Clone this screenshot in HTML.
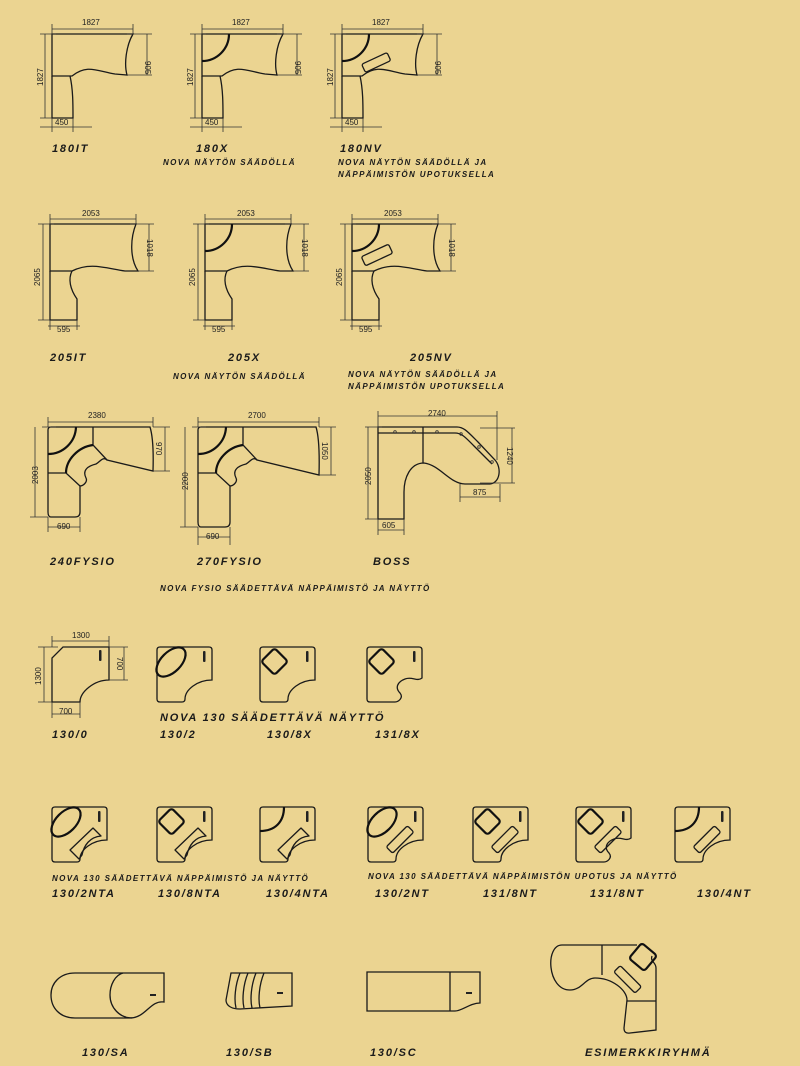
<!DOCTYPE html>
<html><head><meta charset="utf-8"><style>
html,body{margin:0;padding:0;background:#ebd491;}
svg{display:block}
.s{fill:none;stroke:#1a1a1a;stroke-width:1.3;vector-effect:non-scaling-stroke}
.t{fill:none;stroke:#111;stroke-width:2.2;vector-effect:non-scaling-stroke}
.d{fill:none;stroke:#333;stroke-width:0.8}
.n{font-family:"Liberation Sans",sans-serif;font-size:8px;fill:#222}
.L{font-family:"Liberation Sans",sans-serif;font-size:11px;font-weight:bold;font-style:italic;letter-spacing:1.8px;fill:#1a1a1a}
.S{font-family:"Liberation Sans",sans-serif;font-size:8px;font-weight:bold;font-style:italic;letter-spacing:1.4px;fill:#1a1a1a}
</style></head><body>
<svg width="800" height="1066" viewBox="0 0 800 1066" xmlns="http://www.w3.org/2000/svg">
<defs>
<g id="s180">
<path class="s" d="M0,0 H81 C74,12 72,30 75,41 L63,40 C45,37 35,30 20,42 H0 Z"/>
<path class="s" d="M0,42 V84 H21 C21,70 21,55 18,42"/>
</g>
<g id="d180">
<path class="d" d="M0,-5 H81 M0,-10 V0 M81,-10 V0 M-12,0 H4 M-7,0 V84 M-12,84 H0 M75,0 H100 M75,41 H100 M95,0 V41 M0,84 V98 M21,84 V98 M-12,93 H40"/>
<text class="n" x="30" y="-9">1827</text>
<text class="n" transform="translate(-9,52) rotate(-90)">1827</text>
<text class="n" transform="translate(93,27) rotate(90)">905</text>
<text class="n" x="3" y="91">450</text>
</g>
<g id="s205">
<path class="s" d="M0,0 H86 C80,15 80,35 88,47 L75,47 C55,44 40,38 22,47 H0 Z"/>
<path class="s" d="M0,47 V96 H27 V75 C20,65 18,55 22,47"/>
</g>
<g id="d205">
<path class="d" d="M0,-5 H86 M0,-10 V0 M86,-10 V0 M-12,0 H4 M-7,0 V96 M-12,96 H0 M80,0 H104 M88,47 H104 M99,0 V47 M0,96 V106 M27,96 V106 M-2,102 H30"/>
<text class="n" x="32" y="-8">2053</text>
<text class="n" transform="translate(-10,62) rotate(-90)">2065</text>
<text class="n" transform="translate(97,15) rotate(90)">1018</text>
<text class="n" x="7" y="108">595</text>
</g>
<g id="q130">
<path class="s" d="M3,0 H52 Q55,0 55,3 V33 C40,33 28,43 28,52 Q28,55 25,55 H3 Q0,55 0,52 V3 Q0,0 3,0 Z"/>
<rect x="46" y="4" width="2.5" height="11" rx="1" fill="#222"/>
</g>
<g id="q131">
<path class="s" d="M3,0 H52 Q55,0 55,3 V31 C50,35 45,29 38,32 C30,35 28,41 33,46 C37,51 31,55 28,55 H3 Q0,55 0,52 V3 Q0,0 3,0 Z"/>
<rect x="46" y="4" width="2.5" height="11" rx="1" fill="#222"/>
</g>
<ellipse id="ell" class="t" cx="14" cy="15" rx="18" ry="10" transform="rotate(-45 14 15)"/>
<rect id="mon" class="t" x="5" y="5" width="19" height="19" rx="3" transform="rotate(45 14.5 14.5)"/>
<path id="arc4" class="t" d="M0,24 C15,24 24,15 24,0"/>
<path id="kbA" class="s" d="M41,21 L49,29 C38,30 32,38 30,48 L27,52 L18,43 Z" stroke-linejoin="round"/>
<rect id="kbN" class="s" x="17" y="28" width="30" height="9" rx="2" transform="rotate(-45 32 32.5)"/>
</defs>

<!-- Row 1 -->
<use href="#s180" x="52" y="34"/><use href="#d180" x="52" y="34"/>
<use href="#s180" x="202" y="34"/><use href="#d180" x="202" y="34"/>
<path class="t" d="M202,61 A27,27 0 0 0 229,34"/>
<use href="#s180" x="342" y="34"/><use href="#d180" x="342" y="34"/>
<path class="t" d="M342,61 A27,27 0 0 0 369,34"/>
<rect class="s" x="362" y="58" width="28" height="9" rx="2" transform="rotate(-25 376 62)"/>
<text class="L" x="52" y="152">180IT</text>
<text class="L" x="196" y="152">180X</text>
<text class="L" x="340" y="152">180NV</text>
<text class="S" x="163" y="165">NOVA NÄYTÖN SÄÄDÖLLÄ</text>
<text class="S" x="338" y="165">NOVA NÄYTÖN SÄÄDÖLLÄ JA</text>
<text class="S" x="338" y="177">NÄPPÄIMISTÖN UPOTUKSELLA</text>

<!-- Row 2 -->
<use href="#s205" x="50" y="224"/><use href="#d205" x="50" y="224"/>
<use href="#s205" x="205" y="224"/><use href="#d205" x="205" y="224"/>
<path class="t" d="M205,251 A27,27 0 0 0 232,224"/>
<use href="#s205" x="352" y="224"/><use href="#d205" x="352" y="224"/>
<path class="t" d="M352,251 A27,27 0 0 0 379,224"/>
<rect class="s" x="362" y="250" width="30" height="10" rx="2" transform="rotate(-25 377 255)"/>
<text class="L" x="50" y="361">205IT</text>
<text class="L" x="228" y="361">205X</text>
<text class="L" x="410" y="361">205NV</text>
<text class="S" x="173" y="379">NOVA NÄYTÖN SÄÄDÖLLÄ</text>
<text class="S" x="348" y="377">NOVA NÄYTÖN SÄÄDÖLLÄ JA</text>
<text class="S" x="348" y="389">NÄPPÄIMISTÖN UPOTUKSELLA</text>

<!-- Row 3 Fysio -->
<g>
<path class="s" d="M51,427 H150 Q154,440 153,471 L107,460 C103,456 100,462 96,464 C88,466 82,470 86,478 C88,482 83,486 80,486 V512 Q80,517 75,517 H51 Q48,517 48,512 V430 Q48,427 51,427 Z"/>
<path class="s" d="M48,473 H66 L80,486 M93,427 V445 L107,460"/>
<path class="t" d="M48,454 A28,28 0 0 0 76,427 M93,445 C78,447 66,460 66,473"/>
<path class="d" d="M48,422 H153 M48,417 V427 M153,417 V427 M42,427 H56 M35,427 V517 M30,517 H48 M153,427 H170 M153,471 H170 M165,427 V471 M48,517 V532 M80,517 V532 M48,527 H80"/>
<text class="n" x="88" y="418">2380</text>
<text class="n" transform="translate(38,484) rotate(-90)">2003</text>
<text class="n" transform="translate(156,442) rotate(90)">970</text>
<text class="n" x="57" y="529">690</text>
</g>
<g>
<path class="s" d="M201,427 H316 Q320,440 319,475 L257,460 C253,456 250,462 246,464 C238,466 232,470 236,478 C238,482 233,486 230,486 V522 Q230,527 225,527 H201 Q198,527 198,522 V430 Q198,427 201,427 Z"/>
<path class="s" d="M198,473 H216 L230,486 M243,427 V445 L257,460"/>
<path class="t" d="M198,454 A28,28 0 0 0 226,427 M243,445 C228,447 216,460 216,473"/>
<path class="d" d="M198,422 H319 M198,417 V427 M319,417 V427 M192,427 H206 M185,427 V527 M180,527 H198 M319,427 H336 M319,475 H336 M331,427 V475 M198,527 V545 M230,527 V545 M198,537 H230"/>
<text class="n" x="248" y="418">2700</text>
<text class="n" transform="translate(188,490) rotate(-90)">2200</text>
<text class="n" transform="translate(322,442) rotate(90)">1050</text>
<text class="n" x="206" y="539">690</text>
</g>
<g>
<path class="s" d="M378,427 H457 C464,427 468,432 478,442 L495,460 C502,468 500,483 490,484 H465 C450,484 440,465 424,463 C410,463 404,478 404,492 V519 H378 Z"/>
<path class="s" d="M423,427 V463 M378,433 H455 C462,433 466,438 474,446 L492,464"/>
<circle class="d" cx="395" cy="432" r="1.3"/><circle class="d" cx="414" cy="432" r="1.3"/><circle class="d" cx="437" cy="432" r="1.3"/><circle class="d" cx="461" cy="434" r="1.3"/><circle class="d" cx="479" cy="447" r="1.3"/><circle class="d" cx="492" cy="462" r="1.3"/>
<path class="d" d="M378,416 H497 M378,411 V428 M497,411 V460 M365,427 H382 M368,427 V519 M365,519 H378 M480,428 H515 M480,483 H515 M512,428 V483 M460,484 V502 M500,484 V502 M460,497 H500 M378,519 V535 M404,519 V535 M378,530 H404"/>
<text class="n" x="428" y="416">2740</text>
<text class="n" transform="translate(371,485) rotate(-90)">2050</text>
<text class="n" transform="translate(507,447) rotate(90)">1240</text>
<text class="n" x="473" y="495">875</text>
<text class="n" x="382" y="528">605</text>
</g>
<text class="L" x="50" y="565">240FYSIO</text>
<text class="L" x="197" y="565">270FYSIO</text>
<text class="L" x="373" y="565">BOSS</text>
<text class="S" x="160" y="591">NOVA FYSIO SÄÄDETTÄVÄ NÄPPÄIMISTÖ JA NÄYTTÖ</text>

<!-- Row 4 -->
<path class="s" d="M63,647 H109 V680 C94,680 80,692 80,702 H52 V658 Z"/>
<rect x="99" y="650" width="2.5" height="11" rx="1" fill="#222"/>
<path class="d" d="M52,641 H109 M52,636 V647 M109,636 V647 M38,647 H58 M44,647 V702 M38,702 H52 M109,647 H128 M109,680 H128 M124,647 V680 M52,702 V718 M80,702 V718 M52,714 H80"/>
<text class="n" x="72" y="638">1300</text>
<text class="n" transform="translate(41,685) rotate(-90)">1300</text>
<text class="n" transform="translate(117,657) rotate(90)">700</text>
<text class="n" x="59" y="714">700</text>
<use href="#q130" x="157" y="647"/><use href="#ell" x="157" y="647"/>
<use href="#q130" x="260" y="647"/><use href="#mon" x="260" y="647"/>
<use href="#q131" x="367" y="647"/><use href="#mon" x="367" y="647"/>
<text class="L" x="160" y="721">NOVA 130 SÄÄDETTÄVÄ NÄYTTÖ</text>
<text class="L" x="52" y="738">130/0</text>
<text class="L" x="160" y="738">130/2</text>
<text class="L" x="267" y="738">130/8X</text>
<text class="L" x="375" y="738">131/8X</text>

<!-- Row 5 -->
<use href="#q130" x="52" y="807"/><use href="#ell" x="52" y="807"/><use href="#kbA" x="52" y="807"/>
<use href="#q130" x="157" y="807"/><use href="#mon" x="157" y="807"/><use href="#kbA" x="157" y="807"/>
<use href="#q130" x="260" y="807"/><use href="#arc4" x="260" y="807"/><use href="#kbA" x="260" y="807"/>
<use href="#q130" x="368" y="807"/><use href="#ell" x="368" y="807"/><use href="#kbN" x="368" y="807"/>
<use href="#q130" x="473" y="807"/><use href="#mon" x="473" y="807"/><use href="#kbN" x="473" y="807"/>
<use href="#q131" x="576" y="807"/><use href="#mon" x="576" y="807"/><use href="#kbN" x="576" y="807"/>
<use href="#q130" x="675" y="807"/><use href="#arc4" x="675" y="807"/><use href="#kbN" x="675" y="807"/>
<text class="S" x="52" y="881">NOVA 130 SÄÄDETTÄVÄ NÄPPÄIMISTÖ JA NÄYTTÖ</text>
<text class="S" x="368" y="879">NOVA 130 SÄÄDETTÄVÄ NÄPPÄIMISTÖN UPOTUS JA NÄYTTÖ</text>
<text class="L" x="52" y="897">130/2NTA</text>
<text class="L" x="158" y="897">130/8NTA</text>
<text class="L" x="266" y="897">130/4NTA</text>
<text class="L" x="375" y="897">130/2NT</text>
<text class="L" x="483" y="897">131/8NT</text>
<text class="L" x="590" y="897">131/8NT</text>
<text class="L" x="697" y="897">130/4NT</text>

<!-- Row 6 -->
<path class="s" d="M75,973 H164 V1002 C150,1000 146,1018 130,1018 H75 C60,1018 51,1008 51,995 C51,983 60,973 75,973 Z"/>
<path class="s" d="M123,973 C115,975 110,985 110,995 C110,1008 120,1018 132,1018"/>
<rect x="150" y="994" width="6" height="2" fill="#222"/>
<path class="s" d="M231,973 H292 V1006 L240,1009 C232,1009 226,1006 226,1000 Z"/>
<path class="s" d="M240,973 C235,985 234,1000 236,1008 M248,973 C243,985 242,1000 244,1008 M256,973 C251,985 250,1000 252,1008 M264,973 C259,985 258,1000 260,1008"/>
<rect x="277" y="992" width="6" height="2" fill="#222"/>
<path class="s" d="M367,972 H480 V1003 C470,1003 462,1011 455,1011 H367 Z M450,972 V1011"/>
<rect x="466" y="992" width="6" height="2" fill="#222"/>
<path class="s" d="M562,945 H637 M562,945 C545,945 547,990 570,990 C582,990 585,978 595,978 C612,978 627,990 627,1000 L624,1028 Q624,1034 630,1033 L656,1030 V968 C656,962 650,962 652,956"/>
<path class="s" d="M602,945 V975 M627,1001 H656"/>
<rect class="t" x="633" y="947" width="20" height="20" rx="3" transform="rotate(40 643 957)"/>
<rect class="s" x="613" y="975" width="30" height="9" rx="2" transform="rotate(45 628 979)"/>
<text class="L" x="82" y="1056">130/SA</text>
<text class="L" x="226" y="1056">130/SB</text>
<text class="L" x="370" y="1056">130/SC</text>
<text class="L" x="585" y="1056">ESIMERKKIRYHMÄ</text>
</svg>
</body></html>
